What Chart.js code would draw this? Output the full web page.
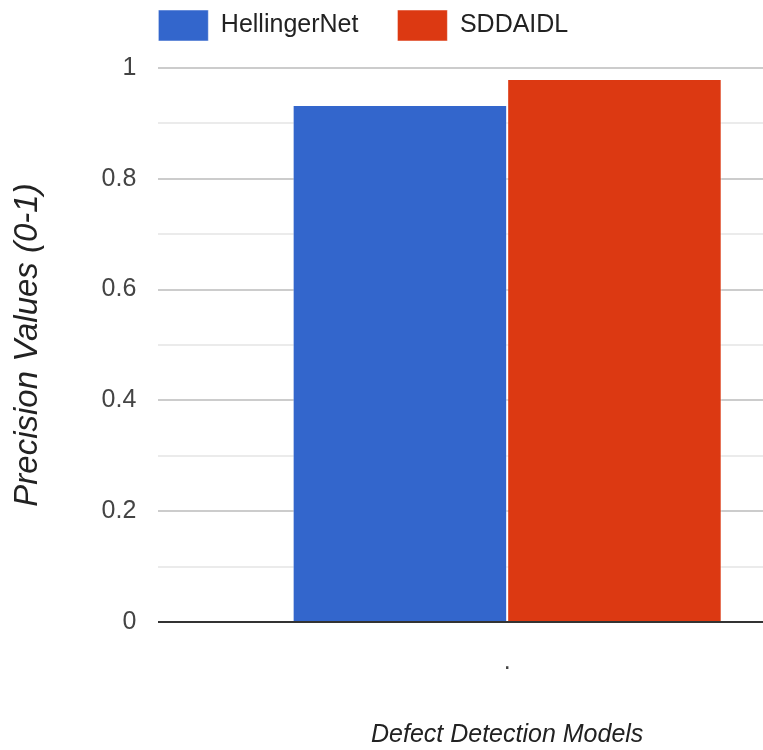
<!DOCTYPE html>
<html>
<head>
<meta charset="utf-8">
<script src="https://cdn.jsdelivr.net/npm/chart.js@4.4.1/dist/chart.umd.min.js"></script>
<style>
  html, body { margin: 0; padding: 0; background: #fff; overflow: hidden; }
  #wrap { width: 763px; height: 750px; overflow: hidden; }
</style>
</head>
<body>
<div id="wrap"><canvas id="grafico" width="860" height="750"></canvas></div>
<script>
// Datos
const categorias = ['.'];
const hellingerNet = [0.933];
const sddaidl = [0.98];
const nombresSeries = ['HellingerNet', 'SDDAIDL'];

const fuente = "'Liberation Sans', Arial, sans-serif";

// Línea mayor cada 0.2, menor cada 0.1
function esMayor(v) {
  return Math.round(v * 10) % 2 === 0;
}

// Mover la leyenda para que empiece en el borde izquierdo del área del gráfico
const moverLeyenda = {
  id: 'moverLeyenda',
  beforeDraw(chart) {
    const l = chart.legend;
    if (!l) return;
    const pad = l.options.labels.padding;
    l.left = chart.chartArea.left - pad;
    l.top = 10 - pad;
  }
};

const ctx = document.getElementById('grafico').getContext('2d');
new Chart(ctx, {
  type: 'bar',
  data: {
    labels: categorias,
    datasets: [
      {
        label: nombresSeries[0],
        data: hellingerNet,
        backgroundColor: '#3366cc',
        borderColor: 'rgba(255,255,255,0.5)',
        borderWidth: 1,
        borderSkipped: 'bottom'
      },
      {
        label: nombresSeries[1],
        data: sddaidl,
        backgroundColor: '#dc3912',
        borderColor: 'rgba(255,255,255,0.5)',
        borderWidth: 1,
        borderSkipped: 'bottom'
      }
    ]
  },
  plugins: [moverLeyenda],
  options: {
    responsive: false,
    animation: false,
    layout: { padding: { top: 0, right: 4, left: 0, bottom: 0 } },
    datasets: {
      bar: { categoryPercentage: 0.615, barPercentage: 1 }
    },
    plugins: {
      legend: {
        position: 'top',
        align: 'start',
        fullSize: false,
        maxHeight: 68,
        labels: {
          boxWidth: 50,
          boxHeight: 31,
          padding: 39,
          color: '#222',
          font: { family: fuente, size: 25 }
        }
      },
      tooltip: { enabled: false }
    },
    scales: {
      x: {
        grid: { display: false },
        border: { display: false },
        ticks: {
          color: '#444',
          padding: 17,
          font: { family: fuente, size: 25 }
        },
        title: {
          display: true,
          text: 'Defect Detection Models',
          color: '#222',
          padding: { top: 26, bottom: 0 },
          font: { family: fuente, size: 25, style: 'italic' }
        }
      },
      y: {
        min: 0,
        max: 1,
        border: { display: false },
        grid: {
          drawTicks: false,
          color: c => c.tick.value === 0 ? '#333' : (esMayor(c.tick.value) ? '#cccccc' : '#ebebeb'),
          lineWidth: 2
        },
        ticks: {
          stepSize: 0.1,
          padding: 22,
          color: '#444',
          font: { family: fuente, size: 25 },
          callback: v => esMayor(v) ? String(Math.round(v * 10) / 10) : ''
        },
        title: {
          display: true,
          text: 'Precision Values (0-1)',
          color: '#222',
          padding: { top: 8, bottom: 32 },
          font: { family: fuente, size: 33, style: 'italic' }
        }
      }
    }
  }
});
</script>
</body>
</html>
